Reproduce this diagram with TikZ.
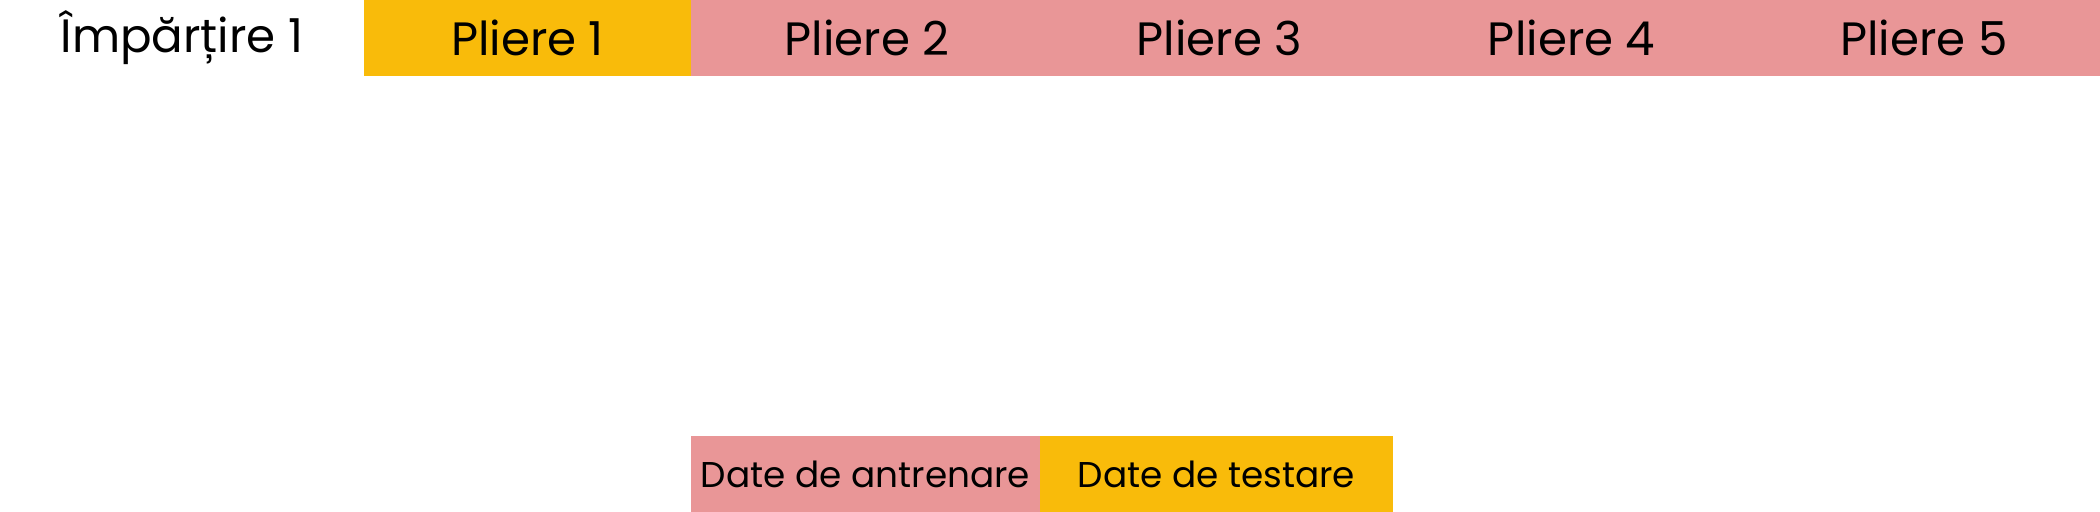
\documentclass[tikz,border=0pt]{standalone}
\usepackage{fontspec}
\setmainfont{Poppins}
\usetikzlibrary{positioning}
\definecolor{foldyellow}{RGB}{249,187,10}
\definecolor{foldpink}{RGB}{233,150,151}

\begin{document}
\begin{tikzpicture}[
    cell/.style={minimum height=.76cm,inner sep=0pt,outer sep=0pt,font=\fontsize{13.3}{15}\selectfont},
    datacell/.style={minimum height=.76cm,inner sep=0pt,outer sep=0pt,font=\fontsize{10.2}{12}\selectfont}]
    \useasboundingbox (0,0) rectangle (21,-5.12);
    % top row: split and folds
    \node[cell,minimum width=3.64cm,anchor=north west] (split) at (0,0) {Împărțire 1};
    \node[cell,fill=foldyellow,minimum width=3.27cm,right=0pt of split] (fold1) {Pliere 1};
    \foreach \i [remember=\i as \prev (initially 1)] in {2,...,5}
      \node[cell,fill=foldpink,minimum width=3.5225cm,right=0pt of fold\prev] (fold\i) {Pliere \i};
    % legend
    \node[datacell,fill=foldpink,minimum width=3.49cm,anchor=south west] (train) at (6.91,-5.12) {Date de antrenare};
    \node[datacell,fill=foldyellow,minimum width=3.53cm,right=0pt of train] (test) {Date de testare};
  \end{tikzpicture}
\end{document}
